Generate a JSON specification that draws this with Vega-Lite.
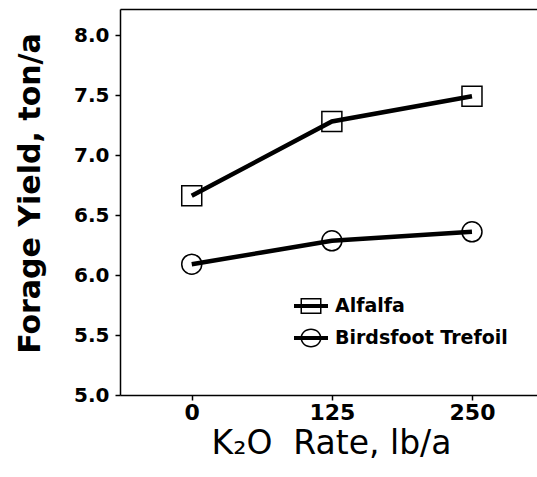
{
  "$schema": "https://vega.github.io/schema/vega-lite/v6.json",
  "width": 417,
  "height": 386,
  "autosize": {"type": "none"},
  "padding": {"left": 120, "top": 9, "right": 0, "bottom": 82},
  "background": "white",
  "config": {
    "view": {"stroke": null},
    "axis": {"grid": false, "domainColor": "black", "tickColor": "black", "labelColor": "black", "titleColor": "black", "domainWidth": 1.5, "tickWidth": 1.5}
  },
  "data": {
    "values": [
      {"rate": 0, "yield": 6.66, "series": "Alfalfa"},
      {"rate": 125, "yield": 7.28, "series": "Alfalfa"},
      {"rate": 250, "yield": 7.49, "series": "Alfalfa"},
      {"rate": 0, "yield": 6.09, "series": "Birdsfoot Trefoil"},
      {"rate": 125, "yield": 6.285, "series": "Birdsfoot Trefoil"},
      {"rate": 250, "yield": 6.36, "series": "Birdsfoot Trefoil"}
    ]
  },
  "resolve": {"axis": {"x": "independent"}, "scale": {"shape": "independent"}, "legend": {"shape": "independent"}},
  "layer": [
    {
      "mark": {"type": "line", "color": "black", "strokeWidth": 4.5},
      "encoding": {
        "x": {"field": "rate", "type": "quantitative", "scale": {"domain": [-64, 308], "nice": false, "zero": false},
          "axis": {"values": [0, 125, 250], "tickSize": 5, "labelPadding": 2, "labelFont": "DejaVu Sans", "labelFontWeight": "bold", "labelFontSize": 22,
            "title": "K₂O\u00a0\u00a0Rate, lb/a", "titleFont": "DejaVu Sans", "titleFontWeight": "normal", "titleFontSize": 33,
            "titleX": 211, "titleY": 58, "titleBaseline": "alphabetic", "titleAlign": "center"}},
        "y": {"field": "yield", "type": "quantitative", "scale": {"domain": [5, 8.217], "nice": false, "zero": false},
          "axis": {"values": [5, 5.5, 6, 6.5, 7, 7.5, 8], "format": ".1f", "tickSize": 5, "labelPadding": 6, "labelFont": "DejaVu Sans", "labelFontWeight": "bold", "labelFontSize": 20,
            "title": "Forage Yield, ton/a", "titleFont": "DejaVu Sans", "titleFontWeight": "bold", "titleFontSize": 30,
            "titleX": -81, "titleY": 184, "titleBaseline": "alphabetic", "titleAlign": "center", "titleAngle": -90}},
        "detail": {"field": "series", "type": "nominal"}
      }
    },
    {
      "mark": {"type": "point", "filled": false, "stroke": "black", "strokeWidth": 1.5, "size": 400, "opacity": 1},
      "encoding": {
        "x": {"field": "rate", "type": "quantitative", "axis": null},
        "y": {"field": "yield", "type": "quantitative"},
        "shape": {"field": "series", "type": "nominal", "scale": {"range": ["square", "circle"]}, "legend": null}
      }
    },
    {
      "mark": {"type": "point", "filled": true, "fill": "black", "opacity": 0, "size": 400},
      "encoding": {
        "x": {"field": "rate", "type": "quantitative",
          "axis": {"orient": "top", "labels": false, "ticks": false, "title": null, "domain": true}},
        "y": {"field": "yield", "type": "quantitative"},
        "shape": {"field": "series", "type": "nominal",
          "scale": {"range": [
            "M-1.05,-0.8H1.05V0.8H-1.05Z M-0.9,-0.65V0.65H0.9V-0.65Z M-1.7,-0.2H1.7V0.2H-1.7Z",
            "M-1.05,0A1.05,0.95 0 1,1 1.05,0A1.05,0.95 0 1,1 -1.05,0Z M-0.9,0A0.9,0.8 0 1,0 0.9,0A0.9,0.8 0 1,0 -0.9,0Z M-1.7,-0.2H1.7V0.2H-1.7Z"
          ]},
          "legend": {"title": null, "orient": "none", "legendX": 181, "legendY": 287, "padding": 0,
            "symbolSize": 400, "symbolOpacity": 1, "symbolFillColor": "black", "symbolStrokeWidth": 0,
            "labelFont": "DejaVu Sans", "labelFontWeight": "bold", "labelFontSize": 19, "labelColor": "black",
            "labelOffset": 14, "rowPadding": 12, "labelLimit": 0}
        }
      }
    }
  ]
}
